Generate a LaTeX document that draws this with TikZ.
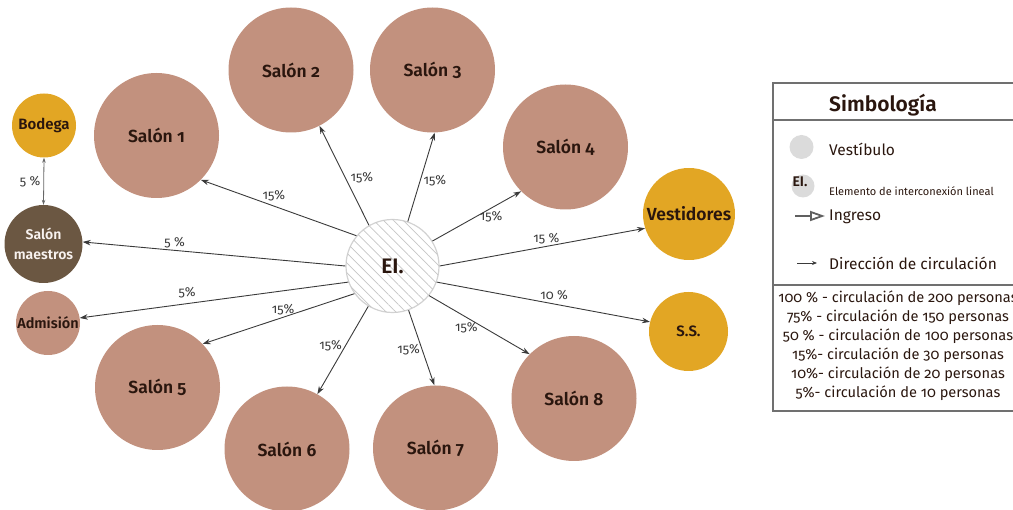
\documentclass[tikz,border=0pt]{standalone}
\usepackage{fontspec}
\setmainfont{Fira Sans}[Numbers=OldStyle,BoldFont={Fira Sans SemiBold}]
\usetikzlibrary{arrows.meta,patterns.meta}
\definecolor{rosa}{HTML}{C2917E}
\definecolor{oro}{HTML}{E2A624}
\definecolor{cafe}{HTML}{6B5742}
\definecolor{ink}{HTML}{2A160E}
\definecolor{gr}{HTML}{3A3A3A}
\definecolor{marco}{HTML}{707070}
\tikzset{
  salon/.style={circle,fill=rosa,minimum size=125pt,inner sep=0pt,font=\fontsize{17.5}{20}\selectfont\bfseries,text=ink},
  anexo/.style={circle,fill=oro,inner sep=0pt,font=\fontsize{15}{17}\selectfont\bfseries,text=ink},
  arr/.style={-{Stealth[length=8pt,width=5.5pt]},line width=0.9pt,color=gr},
  lbl/.style={font=\fontsize{13}{15}\selectfont,text=gr,inner sep=1pt},
  ley/.style={font=\fontsize{15.5}{17}\selectfont,text=ink,anchor=west,inner sep=0pt}}
\begin{document}
\begin{tikzpicture}[x=1pt,y=-1pt]
\useasboundingbox (0,0) rectangle (1013,510);
\clip (0,0) rectangle (1013,510);
% nodo central
\node[circle,minimum size=93pt,inner sep=0pt,draw=gray!35,line width=1.2pt,fill=white,
  postaction={pattern={Lines[angle=-45,distance=7pt,line width=0.7pt]},pattern color=gray!45},
  font=\fontsize{21}{23}\selectfont\bfseries,text=ink] (ei) at (392.5,266) {EI.};
% salones
\node[salon] (s1) at (156.5,135.5) {Salón 1};
\node[salon] (s2) at (291,70) {Salón 2};
\node[salon] (s3) at (432.5,70) {Salón 3};
\node[salon] (s4) at (565.5,147) {Salón 4};
\node[salon] (s5) at (157.5,387.5) {Salón 5};
\node[salon] (s6) at (287,449) {Salón 6};
\node[salon] (s7) at (435.5,448) {Salón 7};
\node[salon] (s8) at (574,398.5) {Salón 8};
% servicios
\node[anexo,minimum size=64pt] (bod) at (44,125.5) {Bodega};
\node[anexo,minimum size=92pt,font=\fontsize{17.5}{20}\selectfont\bfseries] (ves) at (689,214) {Vestidores};
\node[anexo,minimum size=79pt] (ss) at (688.5,331.5) {S.S.};
\node[salon,minimum size=64pt,font=\fontsize{14.5}{16}\selectfont\bfseries] (adm) at (48,323) {Admisión};
\node[circle,fill=cafe,minimum size=78pt,inner sep=0pt,align=center,text=white!88!rosa,
  font=\fontsize{14}{20}\selectfont\bfseries] (sm) at (43.5,244) {Salón\\maestros};
% circulacion
\draw[arr] (ei.140.8) -- node[lbl,pos=.53,above=4pt]{15\%} (s1.-45.6);
\draw[arr] (ei.120.1) -- node[lbl,pos=.48,right=4pt]{15\%} (s2.-63.2);
\draw[arr] (ei.71.4) -- node[lbl,pos=.46,right=2pt]{15\%} (s3.-88.7);
\draw[arr] (ei.32.7) -- node[lbl,pos=.66,below=2pt]{15\%} (s4.225);
\draw[arr] (ei.0) -- node[lbl,pos=.52,above=1pt]{15 \%} (ves.198.3);
\draw[arr] (ei.-20.5) -- node[lbl,pos=.55,above=3pt]{10 \%} (ss.166);
\draw[arr] (ei.-39.2) -- node[lbl,pos=.4,below=2pt,xshift=-3pt]{15\%} (s8.135.7);
\draw[arr] (ei.-70.3) -- node[lbl,pos=.53,left=1pt]{15\%} (s7.91.4);
\draw[arr] (ei.-121.3) -- node[lbl,pos=.45,left=2pt]{15\%} (s6.61.9);
\draw[arr] (ei.-144.7) -- node[lbl,pos=.47,above=1pt]{15\%} (s5.44.4);
\draw[arr] (ei.-160.6) -- node[lbl,pos=.6,above=4pt]{5\%} (adm.9.5);
\draw[arr] (ei.180) -- node[lbl,pos=.65,above=1pt]{5 \%} (sm.3);
\draw[{Stealth[length=5pt,width=3.5pt]}-{Stealth[length=5pt,width=3.5pt]},line width=0.8pt,gray!80!black] (bod.south) -- node[lbl,left=2pt]{5 \%} (sm.north);
% simbologia
\draw[marco,line width=1.1pt] (1030,83) -- (773,83) -- (773,411) -- (1030,411);
\draw[marco,line width=1.1pt] (773,120) -- (1030,120);
\draw[marco,line width=1.1pt] (773,285) -- (1030,285);
\node[font=\fontsize{21}{24}\selectfont\bfseries,text=ink] (tit) at (883,105) {Simbología};
\node[circle,fill=gray!28,minimum size=24pt,inner sep=0pt] (iv) at (801.5,147) {};
\node[ley] (tv) at (829,149) {Vestíbulo};
\node[circle,fill=gray!28,minimum size=23pt,inner sep=0pt] (ie) at (803,186) {};
\node[font=\fontsize{14}{16}\selectfont\bfseries,text=ink,inner sep=0pt] (iet) at (800,182) {EI.};
\node[ley,font=\fontsize{11}{13}\selectfont] (te) at (829,191) {Elemento de interconexión lineal};
\coordinate (ia) at (795,216);
\coordinate (ib) at (825,216);
\draw[-{Triangle[open,length=15pt,width=10pt]},line width=1.8pt,gray!75!black] (ia) -- (ib);
\node[ley] (ti) at (829,217) {Ingreso};
\coordinate (da) at (797,263);
\coordinate (db) at (817,263);
\draw[-{Stealth[length=5pt,width=4pt]},line width=0.8pt,gr] (da) -- (db);
\node[ley] (td) at (829,263) {Dirección de circulación};
\node[font=\fontsize{14.6}{19}\selectfont,text=ink,align=center,inner sep=0pt] (esc) at (898,346)
  {100 \% - circulación de 200 personas\\75\% - circulación de 150 personas\\50 \% - circulación de 100 personas\\
   15\%- circulación de 30 personas\\10\%- circulación de 20 personas\\5\%- circulación de 10 personas};
\end{tikzpicture}
\end{document}
